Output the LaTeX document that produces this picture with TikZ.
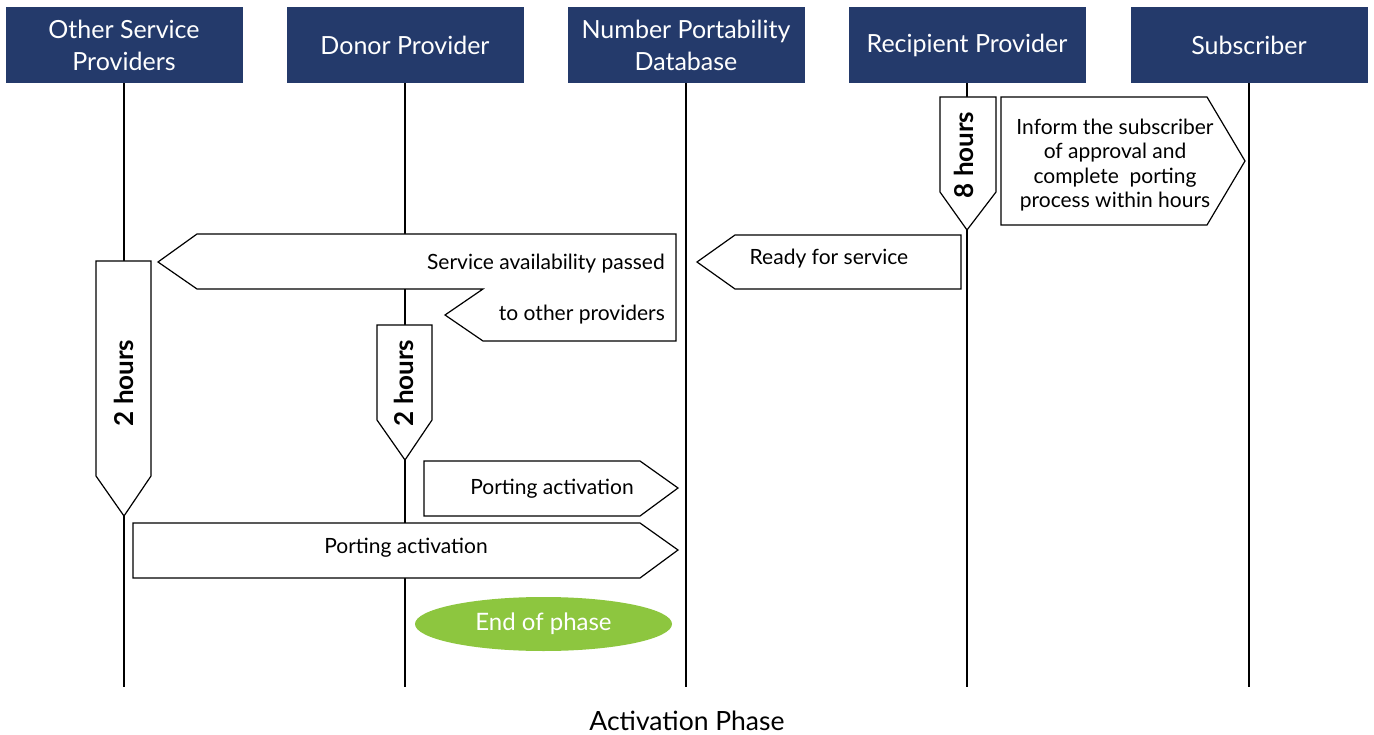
\documentclass[tikz,border=0pt]{standalone}
\usepackage{fontspec}
\setmainfont{Lato}
\usetikzlibrary{shapes.geometric}
\definecolor{navy}{HTML}{243A6B}
\definecolor{phasegreen}{HTML}{8DC63F}
\begin{document}
\begin{tikzpicture}[x=1pt,y=-1pt,
  head/.style={fill=navy, text=white, minimum width=237pt, minimum height=76pt,
    inner sep=0pt, align=center, font=\fontsize{25}{32}\selectfont},
  life/.style={line width=1.2pt, black},
  shp/.style={draw=black, fill=white, line width=1.2pt, line join=miter},
  lbl/.style={font=\fontsize{21}{24.5}\selectfont, inner sep=0pt, align=center},
  hrs/.style={font=\fontsize{26}{30}\selectfont\bfseries, rotate=90, inner sep=0pt}]
\useasboundingbox (0,0) rectangle (1374,735);

% headers
\node[head] (osp) at (124,45) {Other Service\\Providers};
\node[head] (dp)  at (405,45) {Donor Provider};
\node[head] (npd) at (686,45) {Number Portability\\Database};
\node[head] (rp)  at (967,45) {Recipient Provider};
\node[head] (sub) at (1249,45) {Subscriber};

% lifelines
\coordinate (ospend) at (124,687);
\coordinate (dpend)  at (405,687);
\coordinate (npdend) at (686,687);
\coordinate (rpend)  at (967,687);
\coordinate (subend) at (1249,687);
\draw[life] (osp.south) -- (ospend);
\draw[life] (dp.south)  -- (dpend);
\draw[life] (npd.south) -- (npdend);
\draw[life] (rp.south)  -- (rpend);
\draw[life] (sub.south) -- (subend);

% 8 hours
\draw[shp] (940,97) -- (996,97) -- (996,192) -- (967,230) -- (940,192) -- cycle;
\node[hrs] (h8) at (964,155) {8 hours};

% inform subscriber
\draw[shp] (1001,97) -- (1207,97) -- (1245,161) -- (1207,225) -- (1001,225) -- cycle;
\node[lbl] (inform) at (1115,165) {Inform the subscriber\\of approval and\\complete\ \ porting\\process within hours};

% ready for service
\draw[shp] (961,235) -- (961,289) -- (735,289) -- (697,262) -- (735,235) -- cycle;
\node[lbl] (ready) at (829,259) {Ready for service};

% service availability
\draw[shp] (197,234) -- (676,234) -- (676,341) -- (483,341) -- (445,315) -- (483,289)
  -- (197,289) -- (158,262) -- cycle;
\node[lbl, anchor=east] (serv1) at (665,264) {Service availability passed};
\node[lbl, anchor=east] (serv2) at (665,315) {to other providers};

% 2 hours (other providers)
\draw[shp] (96,261) -- (151,261) -- (151,476) -- (124,516) -- (96,476) -- cycle;
\node[hrs] (h2a) at (124,383) {2 hours};

% 2 hours (donor)
\draw[shp] (377,325) -- (432,325) -- (432,420) -- (405,460) -- (377,420) -- cycle;
\node[hrs] (h2b) at (404,383) {2 hours};

% porting activation 1
\draw[shp] (424,461) -- (640,461) -- (678,488) -- (640,516) -- (424,516) -- cycle;
\node[lbl] (pa1) at (552,489) {Porting activation};

% porting activation 2
\draw[shp] (133,523) -- (640,523) -- (678,550) -- (640,578) -- (133,578) -- cycle;
\node[lbl] (pa2) at (406,548) {Porting activation};

% end of phase
\node[ellipse, fill=phasegreen, minimum width=257pt, minimum height=54pt, inner sep=0pt,
  text=white, font=\fontsize{24}{28}\selectfont] (end) at (543.5,624) {End of phase};

% title
\node[font=\fontsize{26.5}{30}\selectfont, inner sep=0pt] (title) at (687,721) {Activation Phase};
\end{tikzpicture}
\end{document}
